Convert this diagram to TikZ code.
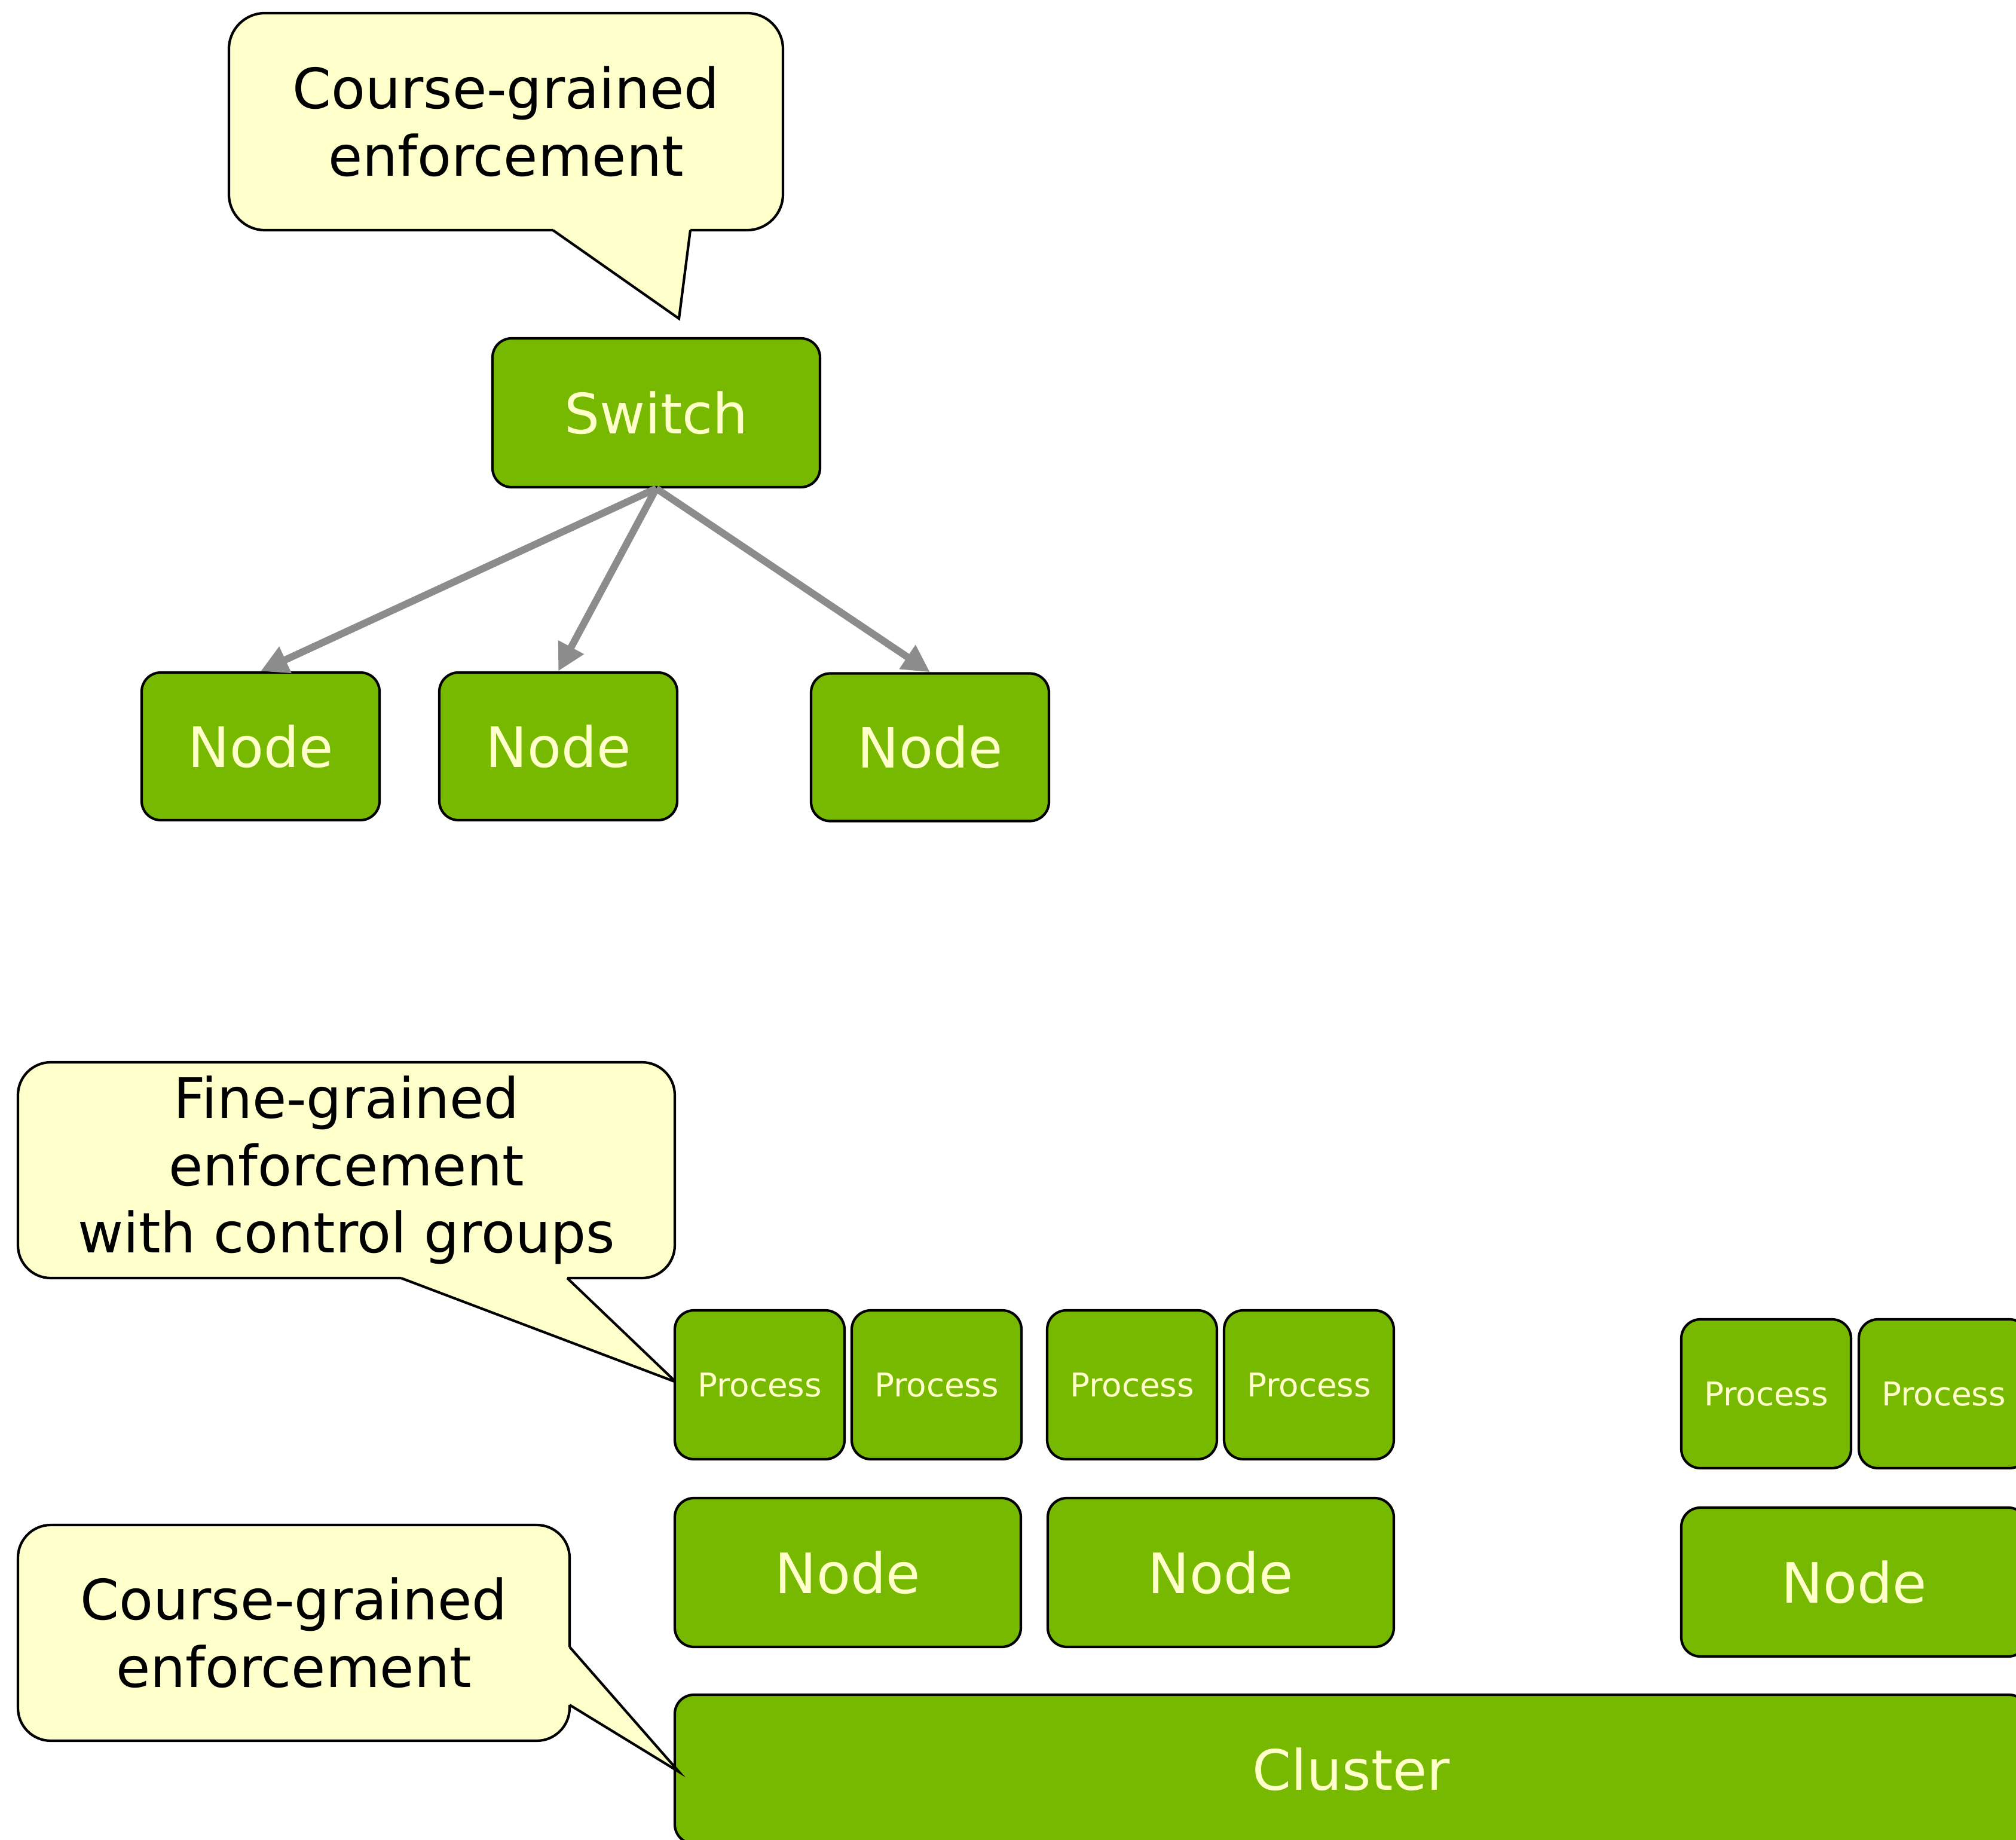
\documentclass[tikz,border=0pt]{standalone}
\usepackage{fontspec}
\setmainfont{DejaVu Sans}
\usetikzlibrary{arrows.meta,calc}
\definecolor{nvgreen}{HTML}{76B900}
\definecolor{paletext}{HTML}{FFFFCC}
\definecolor{notefill}{HTML}{FFFFCC}
\definecolor{linkgray}{HTML}{8C8C8C}
\tikzset{greenbox/.style={draw=black, fill=nvgreen, line width=1.2pt, rounded corners=.32cm, text=paletext, inner sep=0pt, font=\fontsize{26.5}{32}\selectfont},
  topnode/.style={greenbox, minimum width=3.98cm, minimum height=2.47cm},
  hostnode/.style={greenbox, minimum width=5.79cm, minimum height=2.49cm},
  proc/.style={greenbox, minimum width=2.84cm, minimum height=2.49cm, font=\fontsize{15.6}{19}\selectfont},
  note/.style={draw=black, fill=notefill, line width=1.2pt, rounded corners=.55cm, align=center, inner sep=0pt, font=\fontsize{26.5}{32}\selectfont},
  tail/.style={draw=black, line width=1.2pt, line join=miter},
  link/.style={-{Triangle[length=13pt,width=13pt]}, line width=3.4pt, color=linkgray}}

\begin{document}
\begin{tikzpicture}
\useasboundingbox (0,-30.78) rectangle (33.73,0);
\clip (0,-30.78) rectangle (33.73,0);
% switch with three nodes
\node[note, minimum width=9.27cm, minimum height=3.63cm, rounded corners=.6cm] (topnote) at (8.465,-2.035) {Course-grained\\enforcement};
\fill[notefill] (9.25,-3.79) -- (9.25,-3.85) -- (11.36,-5.33) -- (11.55,-3.85) -- (11.55,-3.79) -- cycle;
\draw[tail] (9.25,-3.85) -- (11.36,-5.33) -- (11.55,-3.85);
\node[greenbox, minimum width=5.48cm, minimum height=2.49cm] (switch) at (10.98,-6.905) {Switch};
\node[topnode] (n1) at (4.36,-12.485) {Node}; \node[topnode] (n2) at (9.34,-12.485) {Node}; \node[topnode] (n3) at (15.56,-12.50) {Node};
\draw[link] (switch.south) -- (n1.north); \draw[link] (switch.south) -- (n2.north); \draw[link] (switch.south) -- (n3.north);
% cluster, nodes and processes
\node[note, minimum width=10.99cm, minimum height=3.61cm] (finenote) at (5.795,-19.575) {Fine-grained\\enforcement\\with control groups};
\fill[notefill] (6.71,-21.32) -- (6.71,-21.38) -- (11.31,-23.12) -- (9.49,-21.38) -- (9.49,-21.32) -- cycle;
\draw[tail] (6.71,-21.38) -- (11.31,-23.12) -- (9.49,-21.38);
\node[proc] (p1) at (12.71,-23.165) {Process}; \node[proc] (p2) at (15.67,-23.165) {Process};
\node[proc] (p3) at (18.94,-23.165) {Process}; \node[proc] (p4) at (21.90,-23.165) {Process};
\node[proc] (p5) at (29.55,-23.315) {Process}; \node[proc] (p6) at (32.52,-23.315) {Process};
\node[hostnode] (h1) at (14.185,-26.305) {Node}; \node[hostnode] (h2) at (20.425,-26.305) {Node}; \node[hostnode] (h3) at (31.025,-26.465) {Node};
\node[greenbox, minimum width=22.64cm, minimum height=2.49cm] (cluster) at (22.61,-29.595) {Cluster};
\node[note, minimum width=9.23cm, minimum height=3.61cm] (coursenote) at (4.915,-27.315) {Course-grained\\enforcement};
\fill[notefill] (9.47,-27.55) -- (9.53,-27.55) -- (11.36,-29.64) -- (9.53,-28.52) -- (9.47,-28.52) -- cycle;
\draw[tail] (9.53,-27.55) -- (11.36,-29.64) -- (9.53,-28.52);
\end{tikzpicture}
\end{document}
